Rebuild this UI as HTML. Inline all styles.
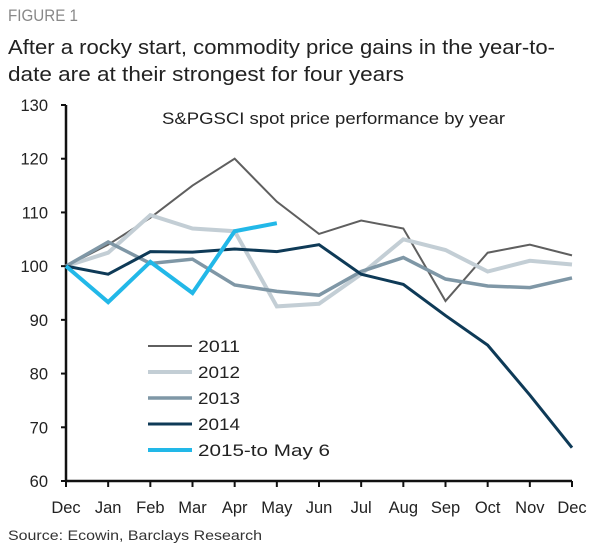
<!DOCTYPE html>
<html><head><meta charset="utf-8"><style>
body{margin:0;background:#fff;width:600px;height:553px;overflow:hidden;font-family:"Liberation Sans",sans-serif}
</style></head><body>
<svg width="600" height="553" font-family="Liberation Sans, sans-serif">
<text x="8" y="21" font-size="17" fill="#888" textLength="70" lengthAdjust="spacingAndGlyphs">FIGURE 1</text>
<text x="8" y="54" font-size="20.5" fill="#222" textLength="547" lengthAdjust="spacingAndGlyphs">After a rocky start, commodity price gains in the year-to-</text>
<text x="8" y="81" font-size="20.5" fill="#222" textLength="396" lengthAdjust="spacingAndGlyphs">date are at their strongest for four years</text>
<text x="162" y="124" font-size="17" fill="#222" textLength="343" lengthAdjust="spacingAndGlyphs">S&amp;PGSCI spot price performance by year</text>
<g id="axes"></g>
<g id="series"></g>
<g id="legend"></g>
<text x="8" y="540" font-size="14" fill="#333" textLength="254" lengthAdjust="spacingAndGlyphs">Source:  Ecowin, Barclays Research</text>
</svg>
<script>
const months=["Dec","Jan","Feb","Mar","Apr","May","Jun","Jul","Aug","Sep","Oct","Nov","Dec"];
const yTicks=[60,70,80,90,100,110,120,130];
const s2011=[100,104,109,115,120,112,106,108.5,107,93.5,102.5,104,102];
const s2012=[100,102.5,109.5,107,106.5,92.5,93,98.5,105,103,99,101,100.3];
const s2013=[100,104.5,100.5,101.3,96.5,95.3,94.6,99,101.6,97.6,96.3,96,97.8];
const s2014=[100,98.5,102.7,102.6,103.2,102.7,104,98.5,96.6,90.8,85.3,76,66.2];
const s2015=[100,93.3,100.8,95,106.5,108];
const names=["2011","2012","2013","2014","2015-to May 6"];
const NS="http://www.w3.org/2000/svg";
const x0=66,x1=572,yTop=105,yBot=481;
const xs=i=>x0+i*(x1-x0)/(months.length-1);
const ys=v=>yBot-(v-60)/(130-60)*(yBot-yTop);
function mk(t,a,p){const e=document.createElementNS(NS,t);for(const k in a)e.setAttribute(k,a[k]);p.appendChild(e);return e;}
const ax=document.getElementById('axes');
const yl=mk('line',{x1:x0,y1:yTop,x2:x0,y2:yBot,stroke:'#111','stroke-width':2.5},ax);


const xl=mk('line',{x1:x0,y1:yBot,x2:x1,y2:yBot,stroke:'#111','stroke-width':2.5},ax);


yTicks.forEach(v=>{
 mk('line',{x1:x0-5,y1:ys(v),x2:x0,y2:ys(v),stroke:'#111','stroke-width':2},ax);
 const t=mk('text',{x:x0-18,y:ys(v)+6,'font-size':16.5,'text-anchor':'end',fill:'#222'},ax);t.textContent=v;
 
 
});
months.forEach((m,i)=>{
 mk('line',{x1:xs(i),y1:yBot,x2:xs(i),y2:yBot+6,stroke:'#111','stroke-width':2},ax);
 const t=mk('text',{x:xs(i),y:513,'font-size':16.5,'text-anchor':'middle',fill:'#222'},ax);t.textContent=m;
 
 
});
const data=[s2011,s2012,s2013,s2014,s2015];
const cols=['#5f5f5f','#c3ced5','#7f97a6','#0e3a57','#22b8e8'];
const widths=[2,4,3.5,3,4];
const lens=[42,42,42,42,132];
const sg=document.getElementById('series');
data.forEach((d,k)=>{
 const p=mk('polyline',{points:d.map((v,i)=>xs(i)+','+ys(v)).join(' '),fill:'none',stroke:cols[k],'stroke-width':widths[k],'stroke-linejoin':'miter'},sg);
 
 
});
const lg=document.getElementById('legend');
names.forEach((n,k)=>{
 const y=346+k*26;
 const g=mk('g',{},lg);
 
 
 mk('line',{x1:148,y1:y,x2:192,y2:y,stroke:cols[k],'stroke-width':widths[k]},g);
 const t=mk('text',{x:198,y:y+6,'font-size':17,fill:'#222',textLength:lens[k],lengthAdjust:'spacingAndGlyphs'},g);t.textContent=n;
});
</script>
</body></html>
